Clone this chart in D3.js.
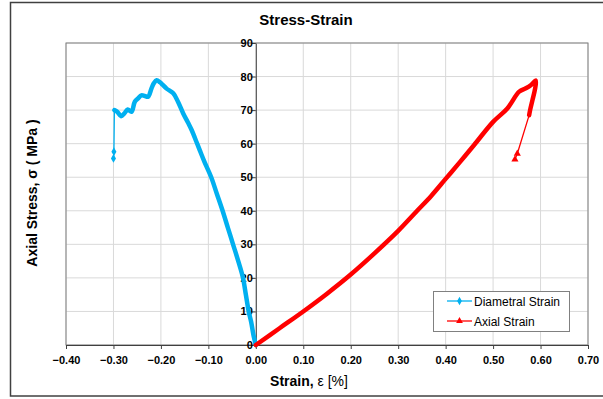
<!DOCTYPE html>
<html lang="en">
<head>
<meta charset="UTF-8" />
<title>Stress-Strain</title>
<script src="https://d3js.org/d3.v7.min.js"></script>
<style>
  body { margin: 0; background: #fff; font-family: "Liberation Sans", Arial, sans-serif; }
  .grid line { stroke: #d9d9d9; stroke-width: 1; }
  .tick text { font-size: 11px; font-weight: bold; fill: #000; }
</style>
</head>
<body>
<svg width="603" height="399"></svg>
<script>
// Diametral strain (%) vs axial stress (MPa) - dense part and sparse tail
const diametralMain = [
  [0, 0], [-0.005, 3], [-0.010, 7], [-0.015, 10], [-0.021, 15], [-0.027, 20],
  [-0.037, 25], [-0.048, 30], [-0.059, 35], [-0.070, 40], [-0.082, 45],
  [-0.094, 50], [-0.108, 54.5], [-0.118, 58], [-0.125, 60.5], [-0.135, 64],
  [-0.143, 66.3], [-0.153, 69], [-0.164, 72.5], [-0.174, 75], [-0.188, 76.4],
  [-0.196, 77.5], [-0.202, 78.3], [-0.209, 78.9], [-0.215, 78], [-0.220, 76.4],
  [-0.227, 74], [-0.234, 74.2], [-0.241, 74.4], [-0.248, 73.5], [-0.255, 72.5],
  [-0.262, 69.5], [-0.270, 70.2], [-0.277, 69], [-0.284, 68.2], [-0.292, 69.5],
  [-0.298, 70]
];
const diametralTail = [[-0.298, 70], [-0.299, 57.6], [-0.300, 55.6]];

// Axial strain (%) vs axial stress (MPa)
const axialMain = [
  [0, 0], [0.05, 5], [0.10, 10], [0.15, 15.3], [0.20, 21], [0.25, 27.3],
  [0.30, 34], [0.34, 40], [0.37, 44.5], [0.40, 49.5], [0.43, 54.5],
  [0.46, 59.6], [0.50, 66.5], [0.53, 70.5], [0.555, 75.5], [0.569, 76.5],
  [0.58, 77.5], [0.59, 78.8], [0.588, 76], [0.583, 73], [0.578, 70], [0.576, 68.5]
];
const axialTail = [[0.576, 68.5], [0.551, 57], [0.546, 55.3]];

const xTicks = [-0.4, -0.3, -0.2, -0.1, 0, 0.1, 0.2, 0.3, 0.4, 0.5, 0.6, 0.7];
const yTicks = [0, 10, 20, 30, 40, 50, 60, 70, 80, 90];

const blue = "#00b0f0", red = "#ff0000";

const svg = d3.select("svg");
const plotLeft = 66, plotRight = 588, plotTop = 43, plotBottom = 345;

const x = d3.scaleLinear().domain([-0.4, 0.7]).range([plotLeft, plotRight]);
const y = d3.scaleLinear().domain([0, 90]).range([plotBottom, plotTop]);

// outer chart frame
svg.append("rect")
  .attr("x", 10.5).attr("y", 2.5).attr("width", 620).attr("height", 393.5)
  .attr("fill", "none").attr("stroke", "#404040").attr("stroke-width", 1.5);

// gridlines
const grid = svg.append("g").attr("class", "grid");
grid.selectAll(".v").data(xTicks).join("line")
  .attr("x1", d => x(d)).attr("x2", d => x(d))
  .attr("y1", plotTop).attr("y2", plotBottom);
grid.selectAll(".h").data(yTicks).join("line")
  .attr("x1", plotLeft).attr("x2", plotRight)
  .attr("y1", d => y(d)).attr("y2", d => y(d));

// plot area border
svg.append("rect")
  .attr("x", plotLeft).attr("y", plotTop).attr("width", plotRight - plotLeft).attr("height", plotBottom - plotTop)
  .attr("fill", "none").attr("stroke", "#808080");

// axes
const xAxis = svg.append("g")
  .attr("transform", `translate(0,${plotBottom})`)
  .call(d3.axisBottom(x).tickValues(xTicks).tickFormat(d3.format(".2f")).tickSize(4).tickSizeOuter(0));
xAxis.selectAll("text").attr("dy", "1.05em");
xAxis.select(".domain").attr("stroke", "#404040");

const yAxis = svg.append("g")
  .attr("transform", `translate(${x(0)},0)`)
  .call(d3.axisLeft(y).tickValues(yTicks).tickSize(4).tickSizeOuter(0));
yAxis.selectAll("text").attr("x", -3);
yAxis.select(".domain").attr("stroke", "#404040");
svg.selectAll(".tick line").attr("stroke", "#404040");

// series
const smooth = d3.line().x(d => x(d[0])).y(d => y(d[1])).curve(d3.curveCatmullRom.alpha(0.5));
const line = d3.line().x(d => x(d[0])).y(d => y(d[1]));

function series(main, tail, color, symbolType) {
  svg.append("path").datum(main)
    .attr("d", smooth).attr("fill", "none").attr("stroke", color)
    .attr("stroke-width", 4.5).attr("stroke-linejoin", "round").attr("stroke-linecap", "round");
  svg.append("path").datum(tail)
    .attr("d", line).attr("fill", "none").attr("stroke", color).attr("stroke-width", 1.3);
  svg.append("g").selectAll("path").data(tail.slice(1)).join("path")
    .attr("transform", d => `translate(${x(d[0])},${y(d[1])})`)
    .attr("d", d3.symbol().type(symbolType).size(22))
    .attr("fill", color);
}
series(diametralMain, diametralTail, blue, d3.symbolDiamond);
series(axialMain, axialTail, red, d3.symbolTriangle);

// title and axis titles
svg.append("text").attr("x", 306).attr("y", 25).attr("text-anchor", "middle")
  .style("font-size", "15px").style("font-weight", "bold").text("Stress-Strain");

const xt = svg.append("text").attr("x", 309).attr("y", 386).attr("text-anchor", "middle")
  .style("font-size", "14px");
xt.append("tspan").style("font-weight", "bold").text("Strain, ");
xt.append("tspan").text("ε [%]");

svg.append("text")
  .attr("transform", "translate(37,193) rotate(-90)")
  .attr("text-anchor", "middle")
  .style("font-size", "14px").style("font-weight", "bold")
  .text("Axial Stress, σ ( MPa )");

// legend
const legend = svg.append("g");
legend.append("rect")
  .attr("x", 433.5).attr("y", 291.5).attr("width", 136).attr("height", 40)
  .attr("fill", "#fff").attr("stroke", "#808080");
const items = [
  { name: "Diametral Strain", color: blue, sym: d3.symbolDiamond },
  { name: "Axial Strain", color: red, sym: d3.symbolTriangle }
];
items.forEach((it, i) => {
  const yy = 301 + i * 20;
  legend.append("line").attr("x1", 447).attr("x2", 472).attr("y1", yy).attr("y2", yy)
    .attr("stroke", it.color).attr("stroke-width", 1.3);
  legend.append("path").attr("transform", `translate(459.5,${yy})`)
    .attr("d", d3.symbol().type(it.sym).size(20)).attr("fill", it.color);
  legend.append("text").attr("x", 474).attr("y", yy + 4.5)
    .style("font-size", "12px").text(it.name);
});
</script>
</body>
</html>
